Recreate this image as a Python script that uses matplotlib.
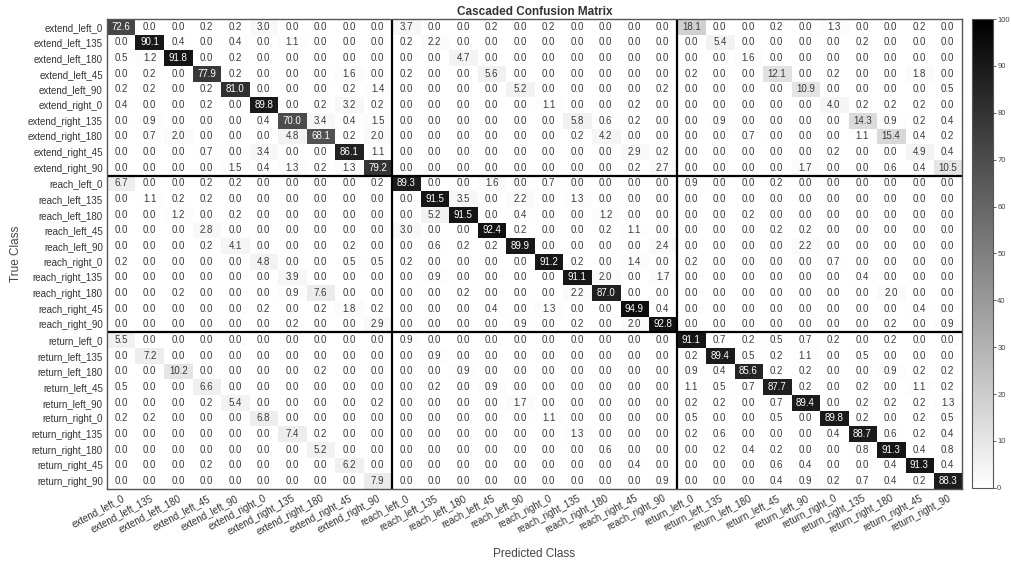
import numpy as np
import matplotlib
matplotlib.use("Agg")
import matplotlib.pyplot as plt

plt.rcParams['font.family'] = ['Liberation Sans', 'DejaVu Sans']

movements = ["extend", "reach", "return"]
directions = ["left_0", "left_135", "left_180", "left_45", "left_90",
              "right_0", "right_135", "right_180", "right_45", "right_90"]
class_labels = [f"{m}_{d}" for m in movements for d in directions]

extend_rows = [
    [72.6, 0.0, 0.0, 0.2, 0.2, 3.0, 0.0, 0.0, 0.0, 0.0, 3.7, 0.0, 0.0, 0.2, 0.0, 0.2, 0.0, 0.0, 0.0, 0.0, 18.1, 0.0, 0.0, 0.2, 0.0, 1.3, 0.0, 0.0, 0.2, 0.0],
    [0.0, 90.1, 0.4, 0.0, 0.4, 0.0, 1.1, 0.0, 0.0, 0.0, 0.2, 2.2, 0.0, 0.0, 0.0, 0.0, 0.0, 0.0, 0.0, 0.0, 0.0, 5.4, 0.0, 0.0, 0.0, 0.0, 0.2, 0.0, 0.0, 0.0],
    [0.5, 1.2, 91.8, 0.0, 0.2, 0.0, 0.0, 0.0, 0.0, 0.0, 0.0, 0.0, 4.7, 0.0, 0.0, 0.0, 0.0, 0.0, 0.0, 0.0, 0.0, 0.0, 1.6, 0.0, 0.0, 0.0, 0.0, 0.0, 0.0, 0.0],
    [0.0, 0.2, 0.0, 77.9, 0.2, 0.0, 0.0, 0.0, 1.6, 0.0, 0.2, 0.0, 0.0, 5.6, 0.0, 0.0, 0.0, 0.0, 0.0, 0.0, 0.2, 0.0, 0.0, 12.1, 0.0, 0.2, 0.0, 0.0, 1.8, 0.0],
    [0.2, 0.2, 0.0, 0.2, 81.0, 0.0, 0.0, 0.0, 0.2, 1.4, 0.0, 0.0, 0.0, 0.0, 5.2, 0.0, 0.0, 0.0, 0.0, 0.2, 0.0, 0.0, 0.0, 0.0, 10.9, 0.0, 0.0, 0.0, 0.0, 0.5],
    [0.4, 0.0, 0.0, 0.2, 0.0, 89.8, 0.0, 0.2, 3.2, 0.2, 0.0, 0.0, 0.0, 0.0, 0.0, 1.1, 0.0, 0.0, 0.2, 0.0, 0.0, 0.0, 0.0, 0.0, 0.0, 4.0, 0.2, 0.2, 0.2, 0.0],
    [0.0, 0.9, 0.0, 0.0, 0.0, 0.4, 70.0, 3.4, 0.4, 1.5, 0.0, 0.0, 0.0, 0.0, 0.0, 0.0, 5.8, 0.6, 0.2, 0.0, 0.0, 0.9, 0.0, 0.0, 0.0, 0.0, 14.3, 0.9, 0.2, 0.4],
    [0.0, 0.7, 2.0, 0.0, 0.0, 0.0, 4.8, 68.1, 0.2, 2.0, 0.0, 0.0, 0.0, 0.0, 0.0, 0.0, 0.2, 4.2, 0.0, 0.0, 0.0, 0.0, 0.7, 0.0, 0.0, 0.0, 1.1, 15.4, 0.4, 0.2],
    [0.0, 0.0, 0.0, 0.7, 0.0, 3.4, 0.0, 0.0, 86.1, 1.1, 0.0, 0.0, 0.0, 0.0, 0.0, 0.0, 0.0, 0.0, 2.9, 0.2, 0.0, 0.0, 0.0, 0.0, 0.0, 0.2, 0.0, 0.0, 4.9, 0.4],
    [0.0, 0.0, 0.0, 0.0, 1.5, 0.4, 1.3, 0.2, 1.3, 79.2, 0.0, 0.0, 0.0, 0.0, 0.0, 0.0, 0.0, 0.0, 0.2, 2.7, 0.0, 0.0, 0.0, 0.0, 1.7, 0.0, 0.0, 0.6, 0.4, 10.5],
]

reach_rows = [
    [6.7, 0.0, 0.0, 0.2, 0.2, 0.0, 0.0, 0.0, 0.0, 0.2, 89.3, 0.0, 0.0, 1.6, 0.0, 0.7, 0.0, 0.0, 0.0, 0.0, 0.9, 0.0, 0.0, 0.2, 0.0, 0.0, 0.0, 0.0, 0.0, 0.0],
    [0.0, 1.1, 0.2, 0.2, 0.0, 0.0, 0.0, 0.0, 0.0, 0.0, 0.0, 91.5, 3.5, 0.0, 2.2, 0.0, 1.3, 0.0, 0.0, 0.0, 0.0, 0.0, 0.0, 0.0, 0.0, 0.0, 0.0, 0.0, 0.0, 0.0],
    [0.0, 0.0, 1.2, 0.0, 0.2, 0.0, 0.0, 0.0, 0.0, 0.0, 0.0, 5.2, 91.5, 0.0, 0.4, 0.0, 0.0, 1.2, 0.0, 0.0, 0.0, 0.0, 0.2, 0.0, 0.0, 0.0, 0.0, 0.0, 0.0, 0.0],
    [0.0, 0.0, 0.0, 2.8, 0.0, 0.0, 0.0, 0.0, 0.0, 0.0, 3.0, 0.0, 0.0, 92.4, 0.2, 0.0, 0.0, 0.2, 1.1, 0.0, 0.0, 0.0, 0.0, 0.2, 0.2, 0.0, 0.0, 0.0, 0.0, 0.0],
    [0.0, 0.0, 0.0, 0.2, 4.1, 0.0, 0.0, 0.0, 0.2, 0.0, 0.0, 0.6, 0.2, 0.2, 89.9, 0.0, 0.0, 0.0, 0.0, 2.4, 0.0, 0.0, 0.0, 0.0, 2.2, 0.0, 0.0, 0.0, 0.0, 0.0],
    [0.2, 0.0, 0.0, 0.0, 0.0, 4.8, 0.0, 0.0, 0.5, 0.5, 0.2, 0.0, 0.0, 0.0, 0.0, 91.2, 0.2, 0.0, 1.4, 0.0, 0.2, 0.0, 0.0, 0.0, 0.0, 0.7, 0.0, 0.0, 0.0, 0.0],
    [0.0, 0.0, 0.0, 0.0, 0.0, 0.0, 3.9, 0.0, 0.0, 0.0, 0.0, 0.9, 0.0, 0.0, 0.0, 0.0, 91.1, 2.0, 0.0, 1.7, 0.0, 0.0, 0.0, 0.0, 0.0, 0.0, 0.4, 0.0, 0.0, 0.0],
    [0.0, 0.0, 0.2, 0.0, 0.0, 0.0, 0.9, 7.6, 0.0, 0.0, 0.0, 0.0, 0.2, 0.0, 0.0, 0.0, 2.2, 87.0, 0.0, 0.0, 0.0, 0.0, 0.0, 0.0, 0.0, 0.0, 0.0, 2.0, 0.0, 0.0],
    [0.0, 0.0, 0.0, 0.0, 0.0, 0.2, 0.0, 0.2, 1.8, 0.2, 0.0, 0.0, 0.0, 0.4, 0.0, 1.3, 0.0, 0.0, 94.9, 0.4, 0.0, 0.0, 0.0, 0.0, 0.0, 0.0, 0.0, 0.0, 0.4, 0.0],
    [0.0, 0.0, 0.0, 0.0, 0.0, 0.0, 0.2, 0.0, 0.0, 2.9, 0.0, 0.0, 0.0, 0.0, 0.9, 0.0, 0.2, 0.0, 2.0, 92.8, 0.0, 0.0, 0.0, 0.0, 0.0, 0.0, 0.0, 0.2, 0.0, 0.9],
]

return_rows = [
    [5.5, 0.0, 0.0, 0.0, 0.0, 0.0, 0.0, 0.0, 0.0, 0.0, 0.9, 0.0, 0.0, 0.0, 0.0, 0.0, 0.0, 0.0, 0.0, 0.0, 91.1, 0.7, 0.2, 0.5, 0.7, 0.2, 0.0, 0.2, 0.0, 0.0],
    [0.0, 7.2, 0.0, 0.0, 0.0, 0.0, 0.0, 0.0, 0.0, 0.0, 0.0, 0.9, 0.0, 0.0, 0.0, 0.0, 0.0, 0.0, 0.0, 0.0, 0.2, 89.4, 0.5, 0.2, 1.1, 0.0, 0.5, 0.0, 0.0, 0.0],
    [0.0, 0.0, 10.2, 0.0, 0.0, 0.0, 0.0, 0.2, 0.0, 0.0, 0.0, 0.0, 0.9, 0.0, 0.0, 0.0, 0.0, 0.0, 0.0, 0.0, 0.9, 0.4, 85.6, 0.2, 0.2, 0.0, 0.0, 0.9, 0.2, 0.2],
    [0.5, 0.0, 0.0, 6.6, 0.0, 0.0, 0.0, 0.0, 0.0, 0.0, 0.0, 0.2, 0.0, 0.9, 0.0, 0.0, 0.0, 0.0, 0.0, 0.0, 1.1, 0.5, 0.7, 87.7, 0.2, 0.0, 0.2, 0.0, 1.1, 0.2],
    [0.0, 0.0, 0.0, 0.2, 5.4, 0.0, 0.0, 0.0, 0.0, 0.2, 0.0, 0.0, 0.0, 0.0, 1.7, 0.0, 0.0, 0.0, 0.0, 0.0, 0.2, 0.2, 0.0, 0.7, 89.4, 0.0, 0.2, 0.2, 0.2, 1.3],
    [0.2, 0.2, 0.0, 0.0, 0.0, 6.8, 0.0, 0.0, 0.0, 0.0, 0.0, 0.0, 0.0, 0.0, 0.0, 1.1, 0.0, 0.0, 0.0, 0.0, 0.5, 0.0, 0.0, 0.5, 0.0, 89.8, 0.2, 0.0, 0.2, 0.5],
    [0.0, 0.0, 0.0, 0.0, 0.0, 0.0, 7.4, 0.2, 0.0, 0.0, 0.0, 0.0, 0.0, 0.0, 0.0, 0.0, 1.3, 0.0, 0.0, 0.0, 0.2, 0.6, 0.0, 0.0, 0.0, 0.4, 88.7, 0.6, 0.2, 0.4],
    [0.0, 0.0, 0.0, 0.0, 0.0, 0.0, 0.0, 5.2, 0.0, 0.0, 0.0, 0.0, 0.0, 0.0, 0.0, 0.0, 0.0, 0.6, 0.0, 0.0, 0.0, 0.2, 0.4, 0.2, 0.0, 0.0, 0.8, 91.3, 0.4, 0.8],
    [0.0, 0.0, 0.0, 0.2, 0.0, 0.0, 0.0, 0.0, 6.2, 0.0, 0.0, 0.0, 0.0, 0.0, 0.0, 0.0, 0.0, 0.0, 0.4, 0.0, 0.0, 0.0, 0.0, 0.6, 0.4, 0.0, 0.0, 0.4, 91.3, 0.4],
    [0.0, 0.0, 0.0, 0.0, 0.0, 0.0, 0.0, 0.0, 0.0, 7.9, 0.0, 0.0, 0.0, 0.0, 0.0, 0.0, 0.0, 0.0, 0.0, 0.9, 0.0, 0.0, 0.0, 0.4, 0.9, 0.2, 0.7, 0.4, 0.2, 88.3],
]

cbar_ticks = [0, 10, 20, 30, 40, 50, 60, 70, 80, 90, 100]

matrix = np.array(extend_rows + reach_rows + return_rows)
n = len(class_labels)

fig = plt.figure(figsize=(10.12, 5.62), dpi=100)
ax = fig.add_axes([0.1057, 0.130, 0.8449, 0.8362])
cax = fig.add_axes([0.9605, 0.132, 0.0208, 0.834])

im = ax.imshow(matrix, cmap="gray_r", vmin=0, vmax=100, aspect="auto",
               interpolation="nearest")

for i in range(n):
    for j in range(n):
        v = matrix[i, j]
        col = "white" if v > 50 else "#3a3a3a"
        ax.text(j, i, f"{v:.1f}", ha="center", va="center", fontsize=7.0,
                color=col)

for b in (9.5, 19.5):
    ax.axvline(b, color="black", lw=1.6)
    ax.axhline(b, color="black", lw=1.6)

ax.set_xticks(range(n))
ax.set_yticks(range(n))
ax.set_xticklabels(class_labels, rotation=28, ha="right",
                   rotation_mode="anchor", fontsize=7.0, color="#333333")
ax.set_yticklabels(class_labels, fontsize=7.0, color="#333333")
ax.tick_params(length=0, pad=3)
for s in ax.spines.values():
    s.set_color("#555555")
    s.set_linewidth(1.0)

ax.set_title("Cascaded Confusion Matrix", fontsize=8.5, fontweight="bold",
             color="#333333", pad=3)
ax.set_xlabel("Predicted Class", fontsize=8.5, color="#444444", labelpad=8)
ax.set_ylabel("True Class", fontsize=8.5, color="#444444", labelpad=4)

cb = fig.colorbar(im, cax=cax, ticks=cbar_ticks)
cb.ax.tick_params(labelsize=5.5, length=2, width=0.6, pad=1, colors="#444444")
cb.outline.set_edgecolor("#555555")
cb.outline.set_linewidth(0.8)

fig.savefig("out.png", dpi=100)
